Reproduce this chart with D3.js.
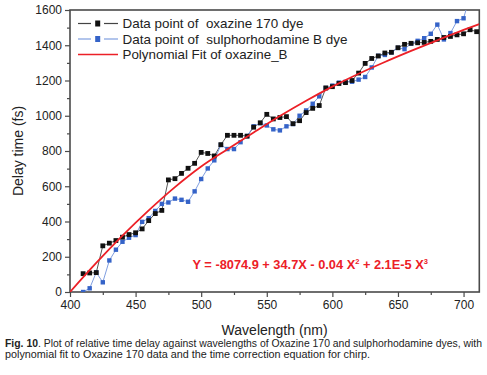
<!DOCTYPE html>
<html><head><meta charset="utf-8">
<script src="https://cdn.jsdelivr.net/npm/d3@7/dist/d3.min.js"></script>
<style>
body{margin:0;background:#fff;}
text{font-family:"Liberation Sans",Arial,Helvetica,sans-serif;}
</style>
</head><body>
<svg id="chart" width="487" height="375"></svg>
<script>
// ---- data ----
const wavelengthOx = [410,415,420,425,430,435,440,445,450,455,460,465,470,475,480,485,490,495,500,505,510,515,520,525,530,535,540,545,550,555,560,565,570,575,580,585,590,595,600,605,610,615,620,625,630,635,640,645,650,655,660,665,670,675,680,685,690,695,700,705,710];
const delayOx = [104,108,110,262,277,292,311,326,336,358,405,445,463,636,643,673,702,730,792,786,772,836,889,889,889,884,935,960,1008,982,990,995,955,972,1018,1042,1058,1158,1165,1183,1188,1200,1242,1297,1325,1339,1356,1360,1386,1405,1411,1414,1416,1422,1433,1444,1450,1459,1465,1488,1477];

const wavelengthSR = [410,415,420,425,430,435,440,445,450,455,460,465,470,475,480,485,490,495,500,505,510,515,520,525,530,535,540,545,550,555,560,565,570,575,580,585,590,595,600,605,610,615,620,625,630,635,640,645,650,655,660,665,670,675,680,685,690,695,700,705];
const delaySR = [0,21,111,55,179,240,285,308,323,398,419,460,500,508,530,523,512,571,641,701,747,834,811,811,850,885,940,958,945,923,917,940,953,1000,1030,1068,1110,1157,1171,1188,1192,1193,1205,1220,1274,1340,1345,1360,1385,1378,1410,1425,1440,1465,1517,1433,1469,1537,1553,1680];

const fitWavelength = [400,420,440,460,480,500,520,540,560,580,600,620,640,660,680,700,712];
const fitDelay = [0,165,320,463,595,712,810,905,998,1085,1165,1238,1305,1368,1428,1487,1520];

const xTickValues = [400,450,500,550,600,650,700];
const xMinorTicks = [425,475,525,575,625,675];
const yTickValues = [0,200,400,600,800,1000,1200,1400,1600];
const yMinorTicks = [100,300,500,700,900,1100,1300,1500];

const legendLabels = ["Data point of  oxazine 170 dye","Data point of  sulphorhodamine B dye","Polynomial Fit of oxazine_B"];

// ---- drawing ----
const svg = d3.select("#chart");
const L = 70, R = 479.3, T = 10, B = 292;
const x = d3.scaleLinear().domain([400,712]).range([L,R]);
const y = d3.scaleLinear().domain([0,1600]).range([B,T]);

const frameCol = "#4a4a4a";
svg.append("clipPath").attr("id","clip").append("rect")
  .attr("x",L).attr("y",T).attr("width",R-L).attr("height",B-T);

// axes
const xAxis = svg.append("g").attr("transform",`translate(0,${B})`)
  .call(d3.axisBottom(x).tickValues(xTickValues).tickSize(5).tickPadding(3).tickFormat(d3.format("d")));
const xMinor = svg.append("g").attr("transform",`translate(0,${B})`)
  .call(d3.axisBottom(x).tickValues(xMinorTicks).tickSize(3).tickFormat(""));
const yAxis = svg.append("g").attr("transform",`translate(${L},0)`)
  .call(d3.axisLeft(y).tickValues(yTickValues).tickSize(5).tickPadding(3).tickFormat(d3.format("d")));
const yMinor = svg.append("g").attr("transform",`translate(${L},0)`)
  .call(d3.axisLeft(y).tickValues(yMinorTicks).tickSize(3).tickFormat(""));
[xAxis,xMinor,yAxis,yMinor].forEach(g=>{
  g.select(".domain").remove();
  g.selectAll(".tick line").attr("stroke",frameCol).attr("stroke-width",1.2);
  g.selectAll(".tick text").attr("fill","#222").style("font-size","12px")
   .style("font-family",'"Liberation Sans",Arial,sans-serif');
});

// frame
svg.append("rect").attr("x",L).attr("y",T).attr("width",R-L).attr("height",B-T)
  .attr("fill","none").attr("stroke",frameCol).attr("stroke-width",1.6);

const plot = svg.append("g").attr("clip-path","url(#clip)");
const lineGen = d3.line().x(d=>x(d[0])).y(d=>y(d[1]));

const oxPts = wavelengthOx.map((w,i)=>[w,delayOx[i]]);
const srPts = wavelengthSR.map((w,i)=>[w,delaySR[i]]);
const fitPts = fitWavelength.map((w,i)=>[w,fitDelay[i]]);

const oxLine = "#444", oxMark = "#111";
const srLine = "#7f9ee0", srMark = "#3563c8";
const fitCol = "#ec2027";

plot.append("path").datum(oxPts).attr("d",lineGen).attr("fill","none")
  .attr("stroke",oxLine).attr("stroke-width",0.9);
plot.append("path").datum(srPts).attr("d",lineGen).attr("fill","none")
  .attr("stroke",srLine).attr("stroke-width",1);

plot.selectAll(".sr").data(srPts).join("rect").attr("class","sr")
  .attr("x",d=>x(d[0])-2.2).attr("y",d=>y(d[1])-2.2).attr("width",4.4).attr("height",4.4)
  .attr("fill",srMark);
plot.selectAll(".ox").data(oxPts).join("rect").attr("class","ox")
  .attr("x",d=>x(d[0])-2.4).attr("y",d=>y(d[1])-2.4).attr("width",4.8).attr("height",4.8)
  .attr("fill",oxMark);

plot.append("path").datum(fitPts)
  .attr("d",d3.line().x(d=>x(d[0])).y(d=>y(d[1])).curve(d3.curveMonotoneX))
  .attr("fill","none").attr("stroke",fitCol).attr("stroke-width",1.8);

// legend
const legY = [23.5,39,54.5];
const legW = [181,225,165];
const leg = svg.append("g");
[[oxLine,oxMark],[srLine,srMark]].forEach((c,i)=>{
  leg.append("line").attr("x1",78).attr("x2",91).attr("y1",legY[i]).attr("y2",legY[i]).attr("stroke",c[0]).attr("stroke-width",1.2);
  leg.append("line").attr("x1",104).attr("x2",118).attr("y1",legY[i]).attr("y2",legY[i]).attr("stroke",c[0]).attr("stroke-width",1.2);
  leg.append("rect").attr("x",95.2).attr("y",legY[i]-3).attr("width",5).attr("height",6).attr("fill",c[1]);
});
leg.append("line").attr("x1",78).attr("x2",118).attr("y1",legY[2]).attr("y2",legY[2]).attr("stroke",fitCol).attr("stroke-width",1.6);
legendLabels.forEach((t,i)=>{
  leg.append("text").attr("x",122.5).attr("y",legY[i]).attr("dy","0.36em")
    .attr("fill","#222").style("font-size","13px").style("white-space","pre").attr("xml:space","preserve")
    .attr("textLength",legW[i]).attr("lengthAdjust","spacingAndGlyphs").text(t);
});

// equation
const eq = svg.append("text").attr("x",192.5).attr("y",264).attr("dy","0.36em")
  .attr("fill",fitCol).style("font-size","12.8px").style("font-weight","bold");
eq.append("tspan").text("Y = -8074.9 + 34.7X - 0.04 X");
eq.append("tspan").attr("dy","-4.5").style("font-size","7.5px").text("2");
eq.append("tspan").attr("dy","4.5").text(" + 2.1E-5 X");
eq.append("tspan").attr("dy","-4.5").style("font-size","7.5px").text("3");

// axis titles
svg.append("text").attr("x",(L+R)/2).attr("y",330).attr("dy","0.36em").attr("text-anchor","middle")
  .attr("fill","#222").style("font-size","14px").text("Wavelength (nm)");
svg.append("text").attr("transform",`translate(18,${(T+B)/2}) rotate(-90)`).attr("dy","0.36em")
  .attr("text-anchor","middle").attr("fill","#222").style("font-size","14px").text("Delay time (fs)");

// caption
const cap1 = svg.append("text").attr("x",5).attr("y",343).attr("dy","0.36em").attr("fill","#222").style("font-size","10.3px")
  .attr("textLength",477).attr("lengthAdjust","spacingAndGlyphs");
cap1.append("tspan").style("font-weight","bold").text("Fig. 10");
cap1.append("tspan").text(". Plot of relative time delay against wavelengths of Oxazine 170 and sulphorhodamine dyes, with");
svg.append("text").attr("x",5).attr("y",354).attr("dy","0.36em").attr("fill","#222").style("font-size","10.3px")
  .attr("textLength",365).attr("lengthAdjust","spacingAndGlyphs")
  .text("polynomial fit to Oxazine 170 data and the time correction equation for chirp.");
</script>
</body></html>
